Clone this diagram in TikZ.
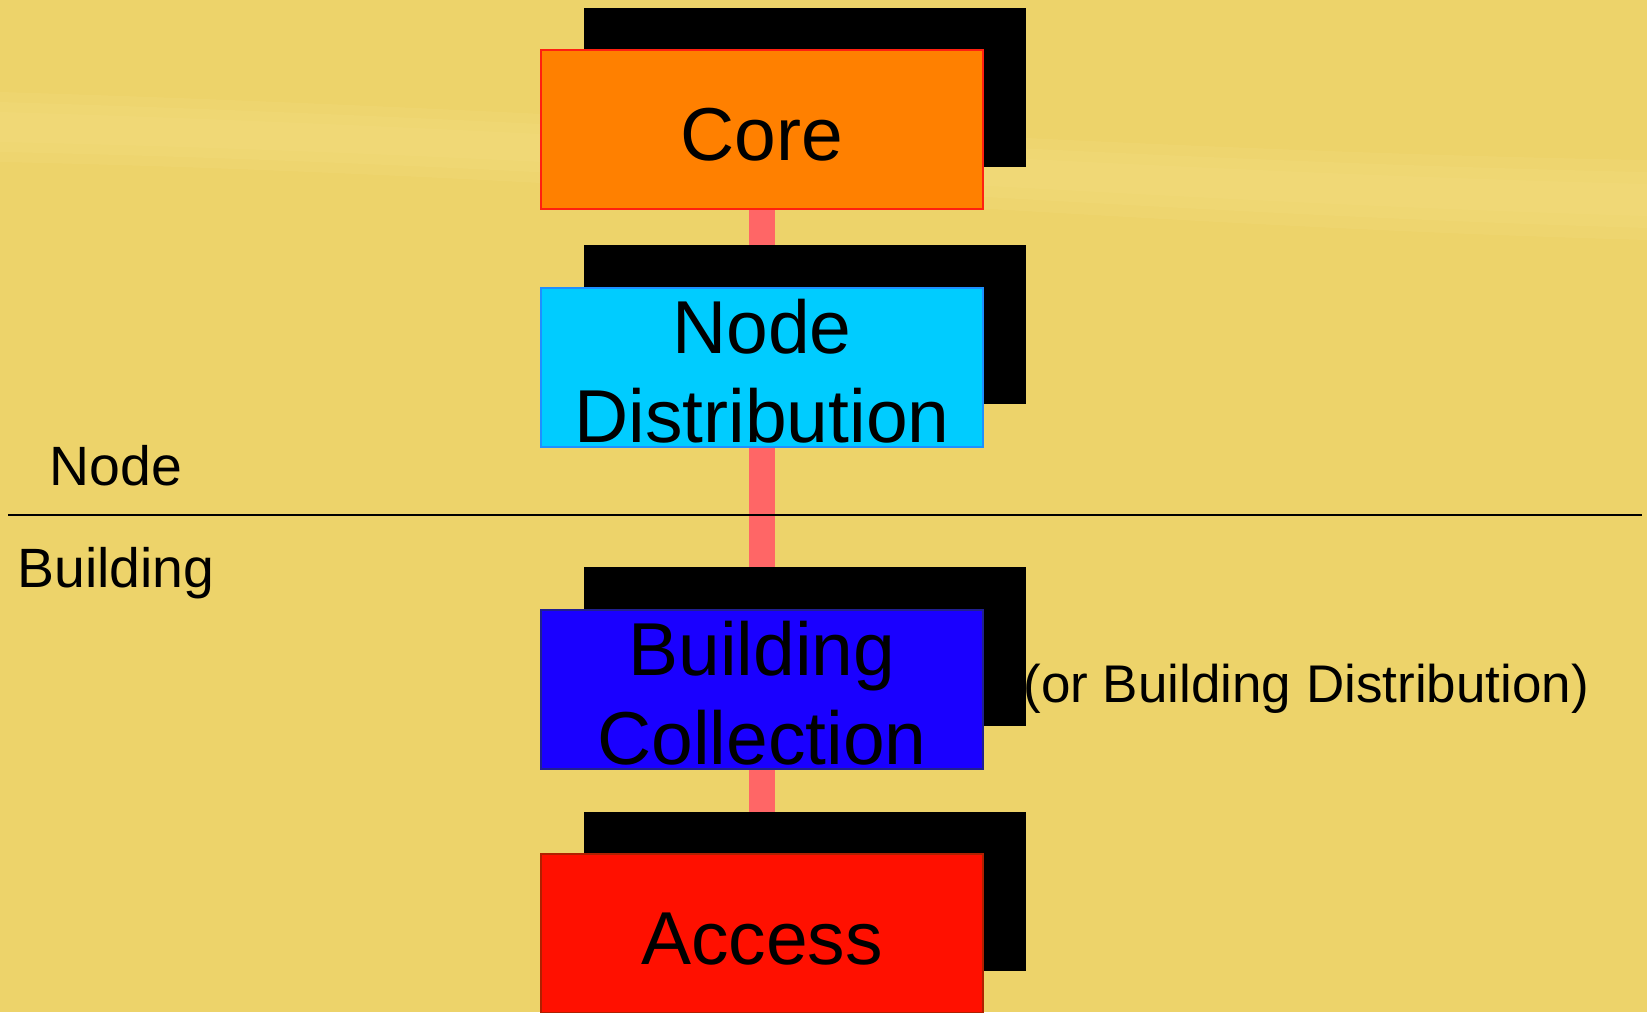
\documentclass[tikz,border=0pt]{standalone}
\usepackage{fontspec}
\setmainfont{Liberation Sans}
\usetikzlibrary{shadows}

\definecolor{paper}{HTML}{EDD36A}
\definecolor{paperlight}{HTML}{F4DE80}
\definecolor{linkpink}{HTML}{FF6666}
\definecolor{coreorange}{HTML}{FF8000}
\definecolor{corerim}{HTML}{FF2010}
\definecolor{distcyan}{HTML}{00CCFF}
\definecolor{distrim}{HTML}{1E90FF}
\definecolor{collblue}{HTML}{1A00FF}
\definecolor{collrim}{HTML}{202090}
\definecolor{accessred}{HTML}{FF1000}
\definecolor{accessrim}{HTML}{B02000}

\pgfdeclarelayer{backdrop}
\pgfsetlayers{backdrop,main}

\tikzset{
  tier/.style={
    rectangle, inner sep=0pt,
    minimum width=221pt, minimum height=79.5pt,
    line width=1pt, align=center,
    font=\fontsize{37.5pt}{44.5pt}\selectfont,
    drop shadow={shadow xshift=21.5pt, shadow yshift=21.25pt,
                 opacity=1, fill=black}
  },
  % text box heights that sit the lettering slightly below centre
  oneline/.style={text height=31pt},
  twoline/.style={text height=75.5pt},
  uplink/.style={draw=linkpink, line width=13pt},
  notelabel/.style={anchor=base west, inner sep=0pt,
    font=\fontsize{26.5pt}{30pt}\selectfont},
  zonelabel/.style={anchor=base west, inner sep=0pt,
    font=\fontsize{27.7pt}{32pt}\selectfont},
  divider/.style={draw=black, line width=0.7pt},
  sheen/.style={fill=paperlight, opacity=0.25}
}

\begin{document}
\begin{tikzpicture}[x=0.5pt, y=-0.5pt]
  \useasboundingbox (0,0) rectangle (1647,1012);

  % hierarchy tiers
  \node[tier, oneline, fill=coreorange, draw=corerim] (core) at (762,129.5) {Core};
  \node[tier, twoline, fill=distcyan, draw=distrim] (nodedist) at (762,367) {Node\\Distribution};
  \node[tier, twoline, fill=collblue, draw=collrim] (bldcoll) at (762,689) {Building\\Collection};
  \node[tier, oneline, fill=accessred, draw=accessrim] (access) at (762,933.5) {Access};

  % side note and zone labels
  \node[notelabel] (alt) at (1023,702) {(or Building Distribution)};
  \node[zonelabel] (zonenode) at (49,485) {Node};
  \node[zonelabel] (zonebuilding) at (17,587) {Building};

  % boundary between node and building zones
  \coordinate (divL) at (8,515);
  \coordinate (divR) at (1642,515);
  \draw[divider] (divL) -- (divR);

  \begin{pgfonlayer}{backdrop}
    \fill[paper] (0,0) rectangle (1647,1012);
    % faint light streak across the upper part of the paper
    \fill[sheen] (0,92) .. controls (600,110) and (1100,150) .. (1647,160)
      -- (1647,240) .. controls (1100,225) and (600,175) .. (0,162) -- cycle;
    \fill[sheen] (0,102) .. controls (600,120) and (1100,160) .. (1647,172)
      -- (1647,228) .. controls (1100,212) and (600,165) .. (0,152) -- cycle;
    \fill[sheen] (0,112) .. controls (600,130) and (1100,170) .. (1647,184)
      -- (1647,216) .. controls (1100,200) and (600,155) .. (0,142) -- cycle;
    \draw[uplink] (core) -- (nodedist);
    \draw[uplink] (nodedist) -- (bldcoll);
    \draw[uplink] (bldcoll) -- (access);
  \end{pgfonlayer}
\end{tikzpicture}
\end{document}
